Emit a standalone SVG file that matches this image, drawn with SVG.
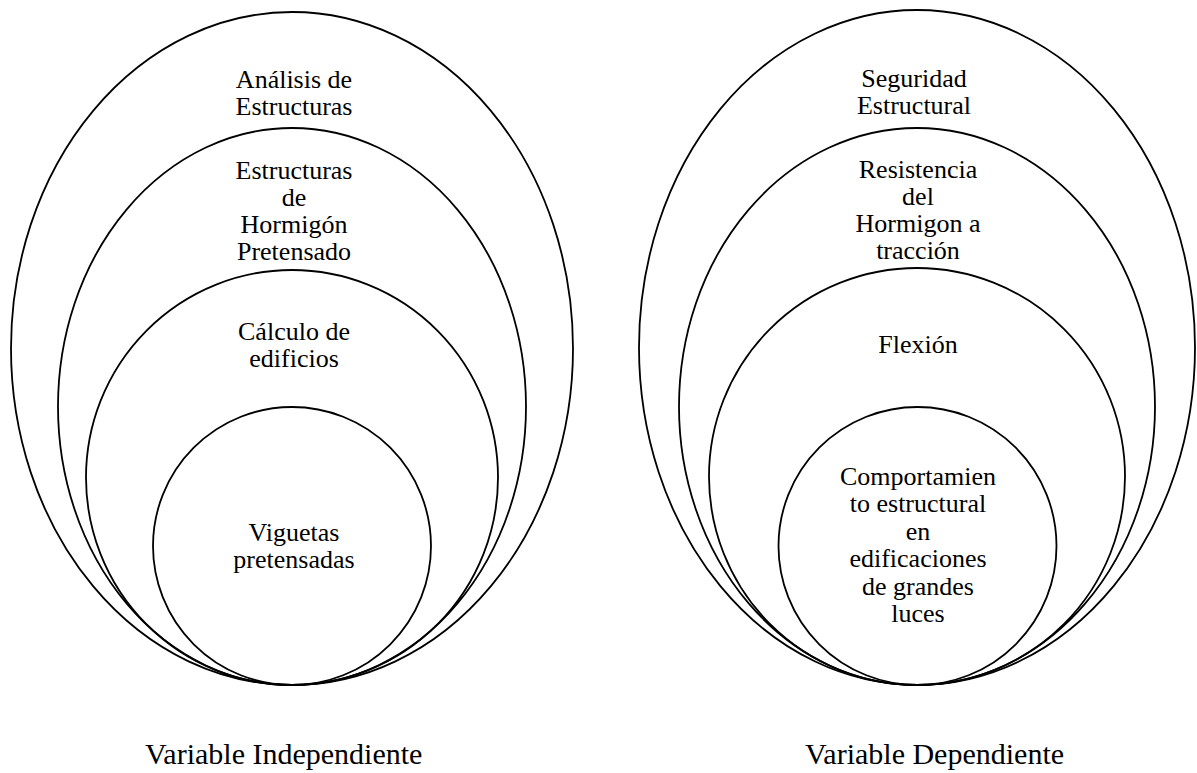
<svg xmlns="http://www.w3.org/2000/svg" width="1197" height="773" viewBox="0 0 1197 773">
<style>
.sh{fill:none;stroke:#000;stroke-width:1.8}
.t{font-family:"Liberation Serif","Times New Roman",serif;font-size:26px;fill:#000;text-anchor:middle}
.cap{font-family:"Liberation Serif","Times New Roman",serif;font-size:30px;fill:#000}
</style>
<rect width="1197" height="773" fill="#fff"/>
<g id="left-outer">
<ellipse class="sh" cx="292" cy="348.5" rx="281" ry="336.5"/>
<text class="t" x="294" y="88">Análisis de</text>
<text class="t" x="294" y="115">Estructuras</text>
</g>
<g id="left-2">
<ellipse class="sh" cx="292" cy="406.5" rx="234" ry="278.5"/>
<text class="t" x="294" y="179">Estructuras</text>
<text class="t" x="294" y="206">de</text>
<text class="t" x="294" y="233">Hormigón</text>
<text class="t" x="294" y="260">Pretensado</text>
</g>
<g id="left-3">
<ellipse class="sh" cx="292" cy="477.5" rx="206" ry="207.5"/>
<text class="t" x="294" y="340">Cálculo de</text>
<text class="t" x="294" y="367">edificios</text>
</g>
<g id="left-inner">
<circle class="sh" cx="292" cy="546" r="139"/>
<text class="t" x="294" y="541">Viguetas</text>
<text class="t" x="294" y="568">pretensadas</text>
</g>
<g id="right-outer">
<ellipse class="sh" cx="917" cy="347.5" rx="278" ry="337.5"/>
<text class="t" x="914" y="87">Seguridad</text>
<text class="t" x="914" y="114">Estructural</text>
</g>
<g id="right-2">
<ellipse class="sh" cx="917" cy="406.5" rx="238" ry="278.5"/>
<text class="t" x="918" y="178">Resistencia</text>
<text class="t" x="918" y="205">del</text>
<text class="t" x="918" y="232">Hormigon a</text>
<text class="t" x="918" y="259">tracción</text>
</g>
<g id="right-3">
<ellipse class="sh" cx="917" cy="476.5" rx="208" ry="208.5"/>
<text class="t" x="918" y="353">Flexión</text>
</g>
<g id="right-inner">
<circle class="sh" cx="917.5" cy="546" r="139"/>
<text class="t" x="918" y="485">Comportamien</text>
<text class="t" x="918" y="512">to estructural</text>
<text class="t" x="918" y="540">en</text>
<text class="t" x="918" y="567">edificaciones</text>
<text class="t" x="918" y="595">de grandes</text>
<text class="t" x="918" y="622">luces</text>
</g>
<g id="captions">
<text class="cap" x="145" y="764">Variable Independiente</text>
<text class="cap" x="805" y="764">Variable Dependiente</text>
</g>
<g id="connectors"/>
</svg>
